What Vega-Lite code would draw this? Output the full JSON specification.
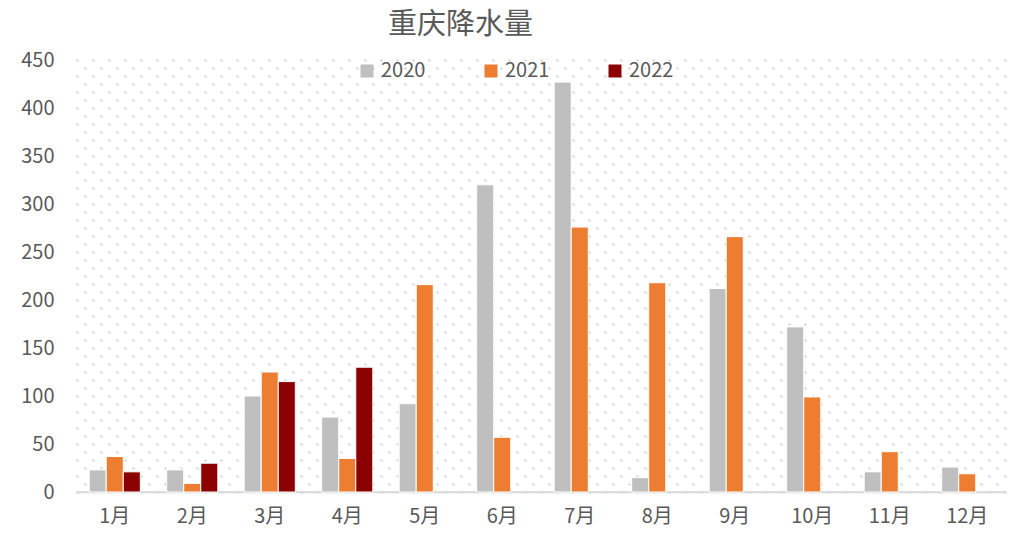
{
  "$schema": "https://vega.github.io/schema/vega-lite/v6.json",
  "width": 930,
  "height": 432,
  "autosize": "none",
  "padding": {"left": 76, "top": 60, "right": 3, "bottom": 43},
  "background": "white",
  "title": {"text": "重庆降水量", "anchor": "start", "frame": "group", "dx": 312, "offset": 10, "fontSize": 29, "font": "Noto Sans CJK SC", "fontWeight": "normal", "color": "#595959"},
  "config": {"view": {"stroke": null}},
  "layer": [
    {
      "data": {"values": [{"base": 0}]},
      "mark": {"type": "rule", "color": "#d9d9d9", "strokeWidth": 1.5},
      "encoding": {
        "y": {
          "field": "base", "type": "quantitative",
          "scale": {"domain": [0, 450]},
          "axis": {
            "orient": "right", "title": null, "labels": false, "ticks": false, "domain": false,
            "grid": true, "gridColor": "#d0d0d0", "gridWidth": 2, "gridDash": [2, 14], "gridDashOffset": 8,
            "values": [8.3333, 25, 41.6667, 58.3333, 75, 91.6667, 108.3333, 125, 141.6667, 158.3333, 175, 191.6667, 208.3333, 225, 241.6667, 258.3333, 275, 291.6667, 308.3333, 325, 341.6667, 358.3333, 375, 391.6667, 408.3333, 425, 441.6667]
          }
        }
      }
    },
    {
      "data": {"values": [
        {"month": "1月", "year": "2020", "value": 23},
        {"month": "1月", "year": "2021", "value": 37},
        {"month": "1月", "year": "2022", "value": 21},
        {"month": "2月", "year": "2020", "value": 23},
        {"month": "2月", "year": "2021", "value": 9},
        {"month": "2月", "year": "2022", "value": 30},
        {"month": "3月", "year": "2020", "value": 100},
        {"month": "3月", "year": "2021", "value": 125},
        {"month": "3月", "year": "2022", "value": 115},
        {"month": "4月", "year": "2020", "value": 78},
        {"month": "4月", "year": "2021", "value": 35},
        {"month": "4月", "year": "2022", "value": 130},
        {"month": "5月", "year": "2020", "value": 92},
        {"month": "5月", "year": "2021", "value": 216},
        {"month": "6月", "year": "2020", "value": 320},
        {"month": "6月", "year": "2021", "value": 57},
        {"month": "7月", "year": "2020", "value": 427},
        {"month": "7月", "year": "2021", "value": 276},
        {"month": "8月", "year": "2020", "value": 15},
        {"month": "8月", "year": "2021", "value": 218},
        {"month": "9月", "year": "2020", "value": 212},
        {"month": "9月", "year": "2021", "value": 266},
        {"month": "10月", "year": "2020", "value": 172},
        {"month": "10月", "year": "2021", "value": 99},
        {"month": "11月", "year": "2020", "value": 21},
        {"month": "11月", "year": "2021", "value": 42},
        {"month": "12月", "year": "2020", "value": 26},
        {"month": "12月", "year": "2021", "value": 19}
      ]},
      "mark": {"type": "bar", "stroke": "white", "strokeWidth": 1},
      "encoding": {
        "x": {
          "field": "month", "type": "nominal",
          "sort": ["1月", "2月", "3月", "4月", "5月", "6月", "7月", "8月", "9月", "10月", "11月", "12月"],
          "scale": {"paddingInner": 0.34, "paddingOuter": 0.17},
          "axis": {"title": null, "labelAngle": 0, "labelFontSize": 20, "labelColor": "#595959", "labelFont": "Noto Sans CJK SC", "ticks": false, "domainColor": "#d9d9d9", "domainWidth": 1.5, "labelPadding": 14}
        },
        "xOffset": {"field": "year", "type": "nominal", "sort": ["2020", "2021", "2022"]},
        "y": {
          "field": "value", "type": "quantitative",
          "scale": {"domain": [0, 450]},
          "axis": {
            "orient": "left", "title": null, "ticks": false, "domain": false,
            "labelFontSize": 20, "labelColor": "#595959", "labelFont": "Noto Sans CJK SC", "labelPadding": 22,
            "grid": true, "gridColor": "#d0d0d0", "gridWidth": 2, "gridDash": [2, 14],
            "values": [0, 16.6667, 33.3333, 50, 66.6667, 83.3333, 100, 116.6667, 133.3333, 150, 166.6667, 183.3333, 200, 216.6667, 233.3333, 250, 266.6667, 283.3333, 300, 316.6667, 333.3333, 350, 366.6667, 383.3333, 400, 416.6667, 433.3333, 450],
            "labelExpr": "datum.value % 50 === 0 ? datum.label : ''"
          }
        },
        "color": {
          "field": "year", "type": "nominal",
          "scale": {"domain": ["2020", "2021", "2022"], "range": ["#BFBFBF", "#ED7D31", "#8B0000"]},
          "legend": {"title": null, "orient": "none", "legendX": 281, "legendY": 1, "direction": "horizontal", "symbolType": "square", "symbolSize": 169, "symbolStrokeWidth": 0, "labelFontSize": 20, "labelColor": "#595959", "labelFont": "Noto Sans CJK SC", "columnPadding": 55}
        }
      }
    }
  ],
  "resolve": {"axis": {"y": "independent"}}
}
